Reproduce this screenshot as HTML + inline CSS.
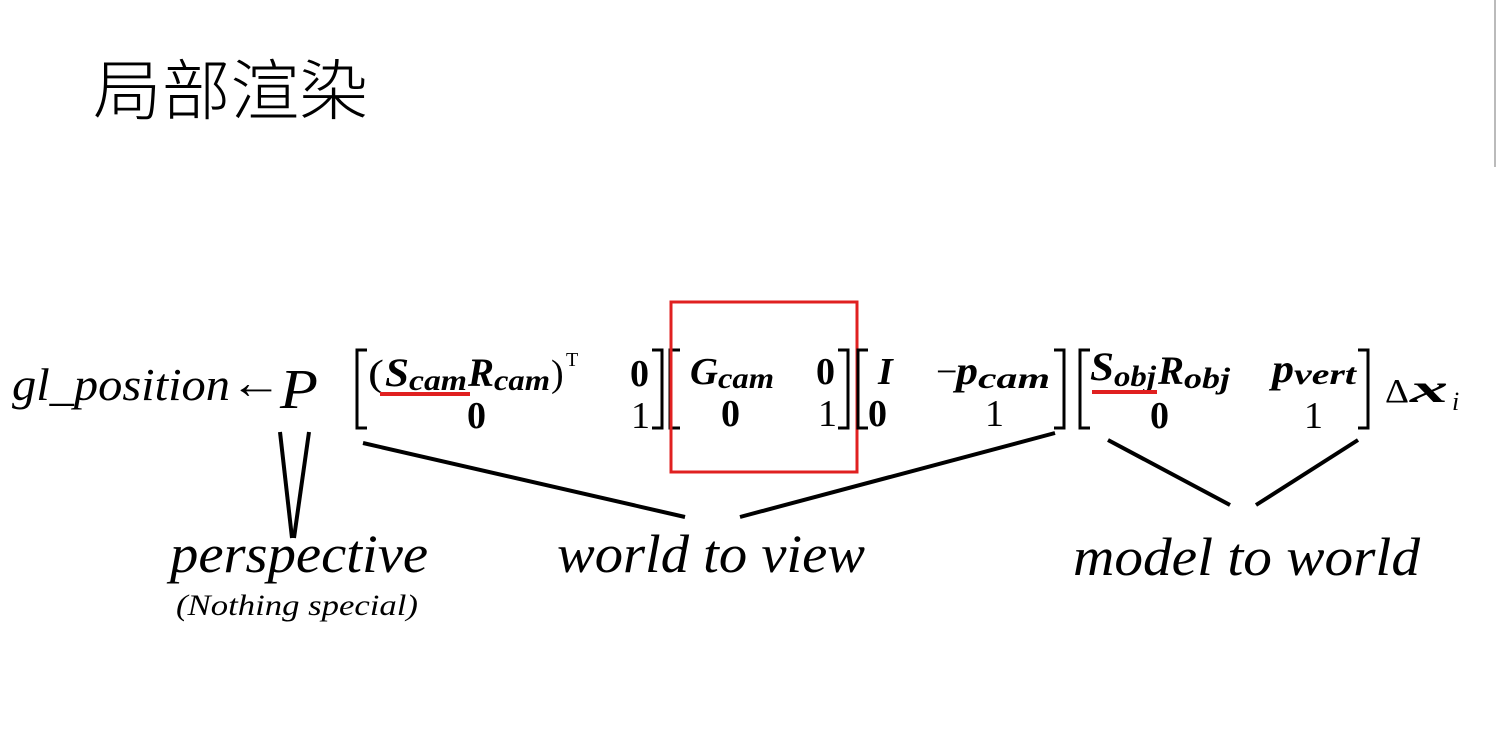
<!DOCTYPE html>
<html><head><meta charset="utf-8"><style>
html,body{margin:0;padding:0;background:#fff;}
svg{display:block;}
</style></head><body>
<svg width="1496" height="754" viewBox="0 0 1496 754" xmlns="http://www.w3.org/2000/svg">
<rect width="1496" height="754" fill="#fff"/>
<line x1="1495" y1="0" x2="1495" y2="167" stroke="#bbb" stroke-width="2"/>
<text x="93" y="114" font-family="'Noto Sans CJK SC',sans-serif" font-size="66" font-weight="300" textLength="275" lengthAdjust="spacingAndGlyphs">局部渲染</text>

<g font-family="'Liberation Serif',serif" fill="#000">
<text x="12" y="400" font-size="46" font-style="italic" textLength="218" lengthAdjust="spacingAndGlyphs">gl_position</text>
<text x="230" y="398" font-size="46" textLength="52" lengthAdjust="spacingAndGlyphs">←</text>
<text x="280" y="408" font-size="56" font-style="italic" textLength="38" lengthAdjust="spacingAndGlyphs">P</text>

<!-- matrix 1 -->
<path d="M367 350 H357 V428 H367" fill="none" stroke="#000" stroke-width="3"/>
<text x="368" y="386" font-size="38" textLength="16" lengthAdjust="spacingAndGlyphs">(</text>
<text x="385" y="386" font-size="40" font-weight="bold" font-style="italic" textLength="24" lengthAdjust="spacingAndGlyphs">S</text>
<text x="409" y="390" font-size="30" font-weight="bold" font-style="italic" textLength="58" lengthAdjust="spacingAndGlyphs">cam</text>
<text x="468" y="386" font-size="40" font-weight="bold" font-style="italic" textLength="26" lengthAdjust="spacingAndGlyphs">R</text>
<text x="494" y="390" font-size="30" font-weight="bold" font-style="italic" textLength="56" lengthAdjust="spacingAndGlyphs">cam</text>
<text x="551" y="386" font-size="38">)</text>
<text x="566" y="366" font-size="20">T</text>
<text x="630" y="386" font-size="38" font-weight="bold">0</text>
<text x="467" y="428" font-size="38" font-weight="bold">0</text>
<text x="631" y="428" font-size="38">1</text>
<path d="M652 350 H662 V428 H652" fill="none" stroke="#000" stroke-width="3"/>

<!-- matrix 2 -->
<path d="M680 350 H670 V428 H680" fill="none" stroke="#000" stroke-width="3"/>
<text x="690" y="384" font-size="38" font-weight="bold" font-style="italic" textLength="28" lengthAdjust="spacingAndGlyphs">G</text>
<text x="718" y="388" font-size="30" font-weight="bold" font-style="italic" textLength="56" lengthAdjust="spacingAndGlyphs">cam</text>
<text x="816" y="384" font-size="38" font-weight="bold">0</text>
<text x="721" y="426" font-size="38" font-weight="bold">0</text>
<text x="818" y="426" font-size="38">1</text>
<path d="M838 350 H848 V428 H838" fill="none" stroke="#000" stroke-width="3"/>
<rect x="671" y="302" width="186" height="170" fill="none" stroke="#e02020" stroke-width="3"/>

<!-- matrix 3 -->
<path d="M868 350 H858 V428 H868" fill="none" stroke="#000" stroke-width="3"/>
<text x="878" y="384" font-size="38" font-weight="bold" font-style="italic">I</text>
<text x="936" y="384" font-size="38">−</text>
<text x="956" y="384" font-size="40" font-weight="bold" font-style="italic" textLength="22" lengthAdjust="spacingAndGlyphs">p</text>
<text x="978" y="388" font-size="30" font-weight="bold" font-style="italic" textLength="72" lengthAdjust="spacingAndGlyphs">cam</text>
<text x="868" y="426" font-size="38" font-weight="bold">0</text>
<text x="985" y="426" font-size="38">1</text>
<path d="M1054 350 H1064 V428 H1054" fill="none" stroke="#000" stroke-width="3"/>

<!-- matrix 4 -->
<path d="M1090 350 H1080 V428 H1090" fill="none" stroke="#000" stroke-width="3"/>
<text x="1090" y="380" font-size="40" font-weight="bold" font-style="italic" textLength="24" lengthAdjust="spacingAndGlyphs">S</text>
<text x="1114" y="386" font-size="30" font-weight="bold" font-style="italic" textLength="42" lengthAdjust="spacingAndGlyphs">obj</text>
<text x="1158" y="384" font-size="40" font-weight="bold" font-style="italic" textLength="26" lengthAdjust="spacingAndGlyphs">R</text>
<text x="1184" y="388" font-size="30" font-weight="bold" font-style="italic" textLength="46" lengthAdjust="spacingAndGlyphs">obj</text>
<text x="1272" y="382" font-size="40" font-weight="bold" font-style="italic" textLength="22" lengthAdjust="spacingAndGlyphs">p</text>
<text x="1294" y="384" font-size="30" font-weight="bold" font-style="italic" textLength="62" lengthAdjust="spacingAndGlyphs">vert</text>
<text x="1150" y="428" font-size="38" font-weight="bold">0</text>
<text x="1304" y="428" font-size="38">1</text>
<path d="M1358 350 H1368 V428 H1358" fill="none" stroke="#000" stroke-width="3"/>

<text x="1385" y="402" font-size="34" textLength="24" lengthAdjust="spacingAndGlyphs">Δ</text>
<text x="1410" y="402" font-size="40" font-weight="bold" font-style="italic" textLength="38" lengthAdjust="spacingAndGlyphs">x</text>
<text x="1452" y="410" font-size="26" font-style="italic">i</text>
</g>

<line x1="380" y1="394" x2="470" y2="394" stroke="#e02020" stroke-width="4"/>
<line x1="1092" y1="392" x2="1157" y2="392" stroke="#e02020" stroke-width="4"/>

<g stroke="#000" stroke-width="4" stroke-linecap="butt">
<line x1="280" y1="432" x2="292" y2="538"/>
<line x1="309" y1="432" x2="294" y2="538"/>
<line x1="363" y1="443" x2="685" y2="517"/>
<line x1="740" y1="517" x2="1055" y2="433"/>
<line x1="1108" y1="440" x2="1230" y2="505"/>
<line x1="1256" y1="505" x2="1358" y2="440"/>
</g>

<g font-family="'Liberation Serif',serif" font-style="italic" fill="#000">
<text x="170" y="572" font-size="54" textLength="258" lengthAdjust="spacingAndGlyphs">perspective</text>
<text x="176" y="615" font-size="30" textLength="242" lengthAdjust="spacingAndGlyphs">(Nothing special)</text>
<text x="557" y="572" font-size="54" textLength="308" lengthAdjust="spacingAndGlyphs">world to view</text>
<text x="1073" y="575" font-size="54" textLength="347" lengthAdjust="spacingAndGlyphs">model to world</text>
</g>
</svg>
</body></html>
